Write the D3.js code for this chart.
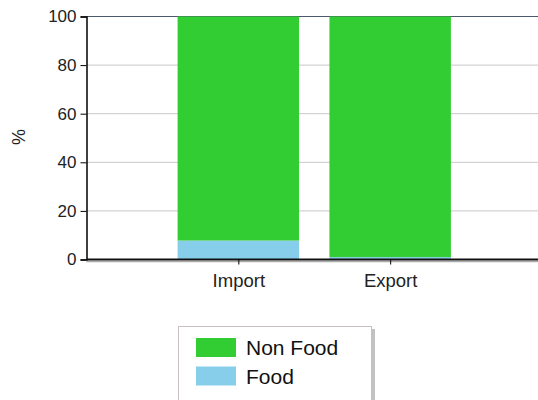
<!DOCTYPE html>
<html>
<head>
<meta charset="utf-8">
<script src="https://cdn.jsdelivr.net/npm/d3@7"></script>
<style>
  body { margin: 0; background: #fff; }
  svg { display: block; font-family: "Liberation Sans", Arial, sans-serif; }
</style>
</head>
<body>
<svg width="538" height="400"></svg>
<script>
// chart data
const categories = ["Import", "Export"];
const seriesNames = ["Food", "Non Food"];
const foodValues = [7.8, 1.0];
const nonFoodValues = [92.2, 99.0];
const yTicks = [0, 20, 40, 60, 80, 100];
const colors = { "Food": "#87ceeb", "Non Food": "#32cd32" };

const svg = d3.select("svg");

// plot area: categories sit at 1 and 2 on a 0..3 axis
const x = d3.scaleLinear().domain([0, 3]).range([86.5, 542]);
const y = d3.scaleLinear().domain([0, 100]).range([259.5, 16.5]);
const barWidth = (x(1) - x(0)) * 0.8;

const rows = categories.map((c, i) => ({
  cat: c, pos: i + 1, "Food": foodValues[i], "Non Food": nonFoodValues[i]
}));
const stacked = d3.stack().keys(seriesNames)(rows);

// grid lines
svg.append("g")
  .selectAll("line")
  .data(yTicks.filter(d => d > 0))
  .join("line")
  .attr("x1", x(0)).attr("x2", 538)
  .attr("y1", d => y(d)).attr("y2", d => y(d))
  .attr("stroke", d => d === 100 ? "#4a5a6a" : "#c8c8c8")
  .attr("stroke-width", 1);

// bars
svg.append("g")
  .selectAll("g")
  .data(stacked)
  .join("g")
  .attr("fill", d => colors[d.key])
  .selectAll("rect")
  .data(d => d)
  .join("rect")
  .attr("x", d => x(d.data.pos) - barWidth / 2)
  .attr("width", barWidth)
  .attr("y", d => y(d[1]))
  .attr("height", d => y(d[0]) - y(d[1]));

// y axis
const yAxis = svg.append("g")
  .attr("transform", `translate(${x(0)},0)`)
  .call(d3.axisLeft(y).tickValues(yTicks).tickSize(6).tickPadding(4));
yAxis.select(".domain").attr("stroke", "#000").attr("stroke-width", 1.5);
yAxis.selectAll(".tick line").attr("stroke", "#000");
yAxis.selectAll("text").attr("font-size", 17).attr("fill", "#222")
  .attr("font-family", "Liberation Sans, Arial, sans-serif");

// x axis with a soft shadow under it
svg.append("line")
  .attr("x1", x(0)).attr("x2", 538)
  .attr("y1", y(0) + 2).attr("y2", y(0) + 2)
  .attr("stroke", "#aaa").attr("stroke-width", 1.5);
const xAxis = svg.append("g")
  .attr("transform", `translate(0,${y(0)})`)
  .call(d3.axisBottom(x).tickValues([1, 2]).tickFormat(d => categories[d - 1])
    .tickSize(5).tickSizeOuter(0).tickPadding(9));
xAxis.select(".domain").attr("stroke", "#111").attr("stroke-width", 2)
  .attr("d", `M${x(0)},0H${538}`);
xAxis.selectAll(".tick line").attr("stroke", "#000");
xAxis.selectAll("text").attr("font-size", 18.5).attr("fill", "#222")
  .attr("font-family", "Liberation Sans, Arial, sans-serif");

// y axis title
svg.append("text")
  .attr("transform", "translate(25,137) rotate(-90)")
  .attr("text-anchor", "middle")
  .attr("font-size", 18)
  .attr("fill", "#222")
  .text("%");

// legend
const legend = svg.append("g");
legend.append("rect")
  .attr("x", 181).attr("y", 329).attr("width", 194).attr("height", 90)
  .attr("fill", "#999").attr("opacity", 0.6);
legend.append("rect")
  .attr("x", 178.5).attr("y", 326.5).attr("width", 193).attr("height", 90)
  .attr("fill", "#fff").attr("stroke", "#c8c0c0");
const legendItems = ["Non Food", "Food"];
const li = legend.selectAll("g.item")
  .data(legendItems)
  .join("g")
  .attr("class", "item")
  .attr("transform", (d, i) => `translate(196,${338 + i * 28.5})`);
li.append("rect")
  .attr("width", 40).attr("height", 19)
  .attr("fill", d => colors[d]);
li.append("text")
  .attr("x", 50).attr("y", 17)
  .attr("font-size", 21)
  .attr("fill", "#111")
  .text(d => d);
</script>
</body>
</html>
